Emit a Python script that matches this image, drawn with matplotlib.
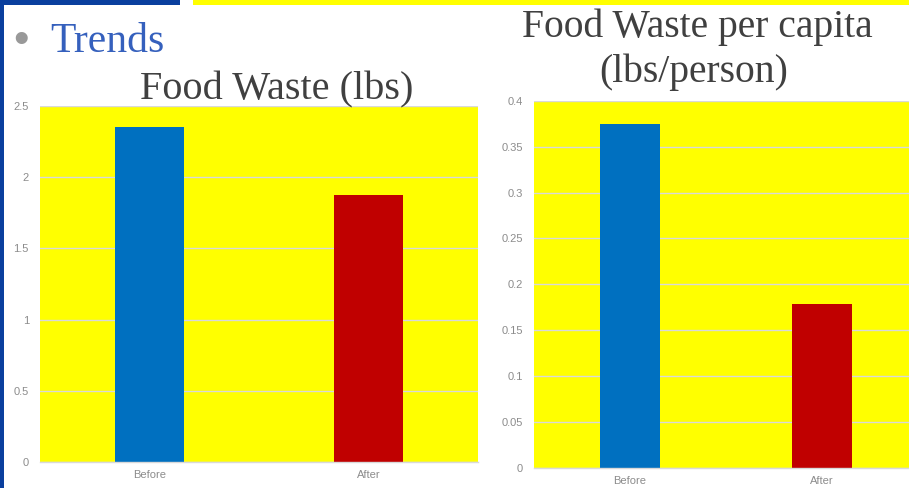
import matplotlib
matplotlib.use("Agg")
import matplotlib.pyplot as plt
from matplotlib.patches import Rectangle

# Data
categories = ["Before", "After"]
waste_lbs = [2.35, 1.875]
waste_per_capita = [0.375, 0.179]
bar_colors = ["#0070C0", "#C00000"]
left_ticks = [0, 0.5, 1, 1.5, 2, 2.5]
left_tick_labels = ["0", "0.5", "1", "1.5", "2", "2.5"]
right_ticks = [0, 0.05, 0.1, 0.15, 0.2, 0.25, 0.3, 0.35, 0.4]
right_tick_labels = ["0", "0.05", "0.1", "0.15", "0.2", "0.25", "0.3", "0.35", "0.4"]

W, H = 909, 488
fig = plt.figure(figsize=(W / 100, H / 100), dpi=100, facecolor="white")


def px_axes(x0, y0, x1, y1):
    """Axes placed by pixel box (top-left origin)."""
    return fig.add_axes([x0 / W, (H - y1) / H, (x1 - x0) / W, (y1 - y0) / H])


# Slide decorations
fig.patches.append(Rectangle((0, 0), 4 / W, 1, transform=fig.transFigure,
                             facecolor="#0A3F9E", edgecolor="none", zorder=0))
fig.patches.append(Rectangle((0, (H - 5) / H), 180 / W, 5 / H, transform=fig.transFigure,
                             facecolor="#0A3F9E", edgecolor="none", zorder=0))
fig.patches.append(Rectangle((193 / W, (H - 5) / H), (W - 193) / W, 5 / H,
                             transform=fig.transFigure,
                             facecolor="#FFFF00", edgecolor="none", zorder=0))

serif = ["Liberation Serif", "DejaVu Serif"]
sans = ["Liberation Sans", "DejaVu Sans"]
title_color = "#404040"
tick_color = "#8C8C8C"
grid_color = "#D9D9D9"

fig.text(21 / W, (H - 41) / H, "\u2022", fontsize=32, color="#999999",
         ha="center", va="center", family=sans)
fig.text(50 / W, (H - 52) / H, "Trends", fontsize=30, color="#3560BD",
         ha="left", va="baseline", family=serif)


def style_axes(ax, ticks, labels, ymax):
    ax.set_facecolor("#FFFF00")
    ax.set_ylim(0, ymax)
    ax.set_xlim(-0.5, 1.5)
    ax.set_yticks(ticks)
    ax.set_yticklabels(labels, family=sans, fontsize=8, color=tick_color)
    ax.set_xticks(range(len(categories)))
    ax.set_xticklabels(categories, family=sans, fontsize=8, color=tick_color)
    ax.tick_params(axis="y", length=0, pad=8)
    ax.tick_params(axis="x", length=0, pad=6)
    ax.grid(axis="y", color=grid_color, linewidth=1)
    ax.set_axisbelow(True)
    for side in ["top", "right", "left"]:
        ax.spines[side].set_visible(False)
    ax.spines["bottom"].set_color(grid_color)
    ax.spines["bottom"].set_linewidth(1)


# Left chart: total food waste
ax1 = px_axes(40, 106, 478, 462)
ax1.bar(range(len(categories)), waste_lbs, width=0.315, color=bar_colors, zorder=2)
style_axes(ax1, left_ticks, left_tick_labels, 2.5)
fig.text(276.5 / W, (H - 99) / H, "Food Waste (lbs)", fontsize=29, color=title_color,
         ha="center", va="baseline", family=serif)

# Right chart: food waste per person
ax2 = px_axes(534, 100.7, 918, 468)
ax2.bar(range(len(categories)), waste_per_capita, width=0.3125, color=bar_colors, zorder=2)
style_axes(ax2, right_ticks, right_tick_labels, 0.4)
fig.text(697 / W, (H - 37) / H, "Food Waste per capita", fontsize=28.5, color=title_color,
         ha="center", va="baseline", family=serif)
fig.text(694 / W, (H - 82) / H, "(lbs/person)", fontsize=28.5, color=title_color,
         ha="center", va="baseline", family=serif)

fig.savefig("out.png", dpi=100, facecolor="white")
